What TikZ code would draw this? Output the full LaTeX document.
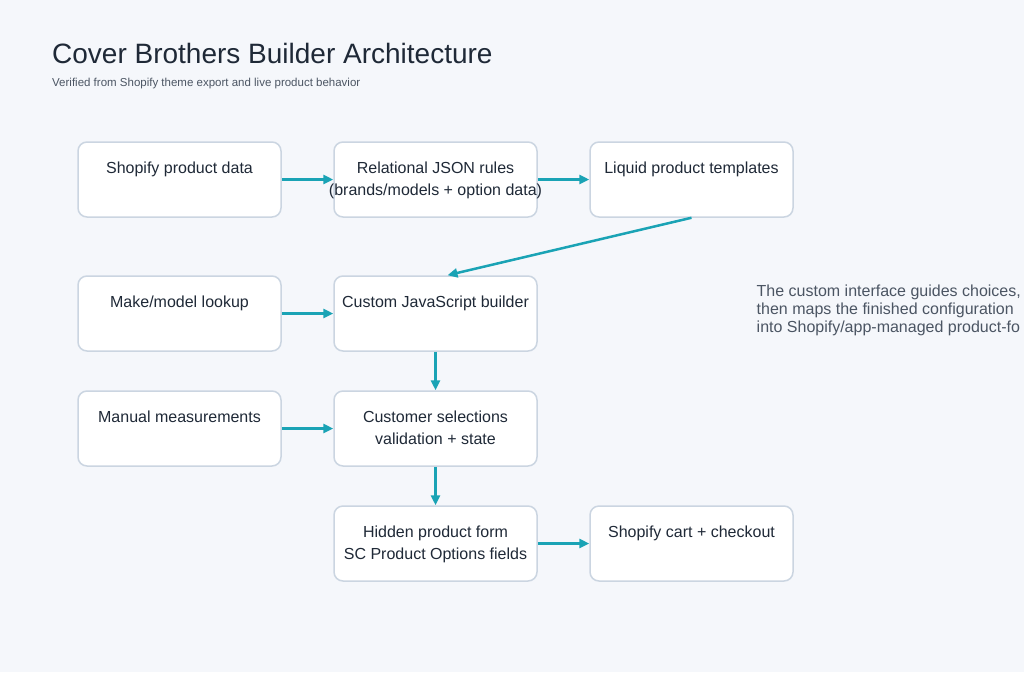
\documentclass[tikz,border=0pt]{standalone}
\usepackage{fontspec}
\setmainfont{Liberation Sans}
\usetikzlibrary{arrows.meta,positioning}
\definecolor{bgcol}{HTML}{F5F7FB}
\definecolor{inkcol}{HTML}{1F2937}
\definecolor{greycol}{HTML}{4B5563}
\definecolor{edgecol}{HTML}{CBD5E1}
\definecolor{tealcol}{HTML}{1AA3B5}
\tikzset{
  card/.style={draw=edgecol,line width=1.5pt,fill=white,rounded corners=9pt,
    minimum width=203pt,minimum height=75pt,inner sep=0pt},
  cardtext/.style={inner sep=0pt,align=center,text=inkcol,anchor=north,
    font=\fontsize{16}{21.5}\selectfont},
  flow/.style={draw=tealcol,line width=2.5pt,-{Triangle[length=10pt,width=9pt]}}
}

\begin{document}
\begin{tikzpicture}[x=1pt,y=-1pt]
      \useasboundingbox (0,0) rectangle (1024,672);
      \fill[bgcol] (0,0) rectangle (1024,672);

      \node[anchor=base west,inner sep=0pt,text=inkcol,font=\fontsize{28}{32}\selectfont]
        (title) at (52,63) {Cover Brothers Builder Architecture};
      \node[anchor=base west,inner sep=0pt,text=greycol,font=\fontsize{11.5}{14}\selectfont]
        (subtitle) at (52,86) {Verified from Shopify theme export and live product behavior};

      \node[card] (shopdata) at (179.5,179.5) {};
      \node[card] (jsonrules) at (435.5,179.5) {};
      \node[card] (liquid) at (691.5,179.5) {};
      \node[card] (lookup) at (179.5,313.5) {};
      \node[card] (builder) at (435.5,313.5) {};
      \node[card] (measure) at (179.5,428.5) {};
      \node[card] (selections) at (435.5,428.5) {};
      \node[card] (hiddenform) at (435.5,543.5) {};
      \node[card] (checkout) at (691.5,543.5) {};

      \node[cardtext] (shopdatatxt) at ([yshift=-20.5pt]shopdata.north) {Shopify product data};
      \node[cardtext] (jsonrulestxt) at ([yshift=-20.5pt]jsonrules.north) {Relational JSON rules\\(brands/models + option data)};
      \node[cardtext] (liquidtxt) at ([yshift=-20.5pt]liquid.north) {Liquid product templates};
      \node[cardtext] (lookuptxt) at ([yshift=-20.5pt]lookup.north) {Make/model lookup};
      \node[cardtext] (buildertxt) at ([yshift=-20.5pt]builder.north) {Custom JavaScript builder};
      \node[cardtext] (measuretxt) at ([yshift=-20.5pt]measure.north) {Manual measurements};
      \node[cardtext] (selectionstxt) at ([yshift=-20.5pt]selections.north) {Customer selections\\validation + state};
      \node[cardtext] (hiddenformtxt) at ([yshift=-20.5pt]hiddenform.north) {Hidden product form\\SC Product Options fields};
      \node[cardtext] (checkouttxt) at ([yshift=-20.5pt]checkout.north) {Shopify cart + checkout};

      \draw[flow] (shopdata) -- (jsonrules);
      \draw[flow] (jsonrules) -- (liquid);
      \draw[flow] (liquid.south) -- ([xshift=12pt]builder.north);
      \draw[flow] (lookup) -- (builder);
      \draw[flow] (builder) -- (selections);
      \draw[flow] (measure) -- (selections);
      \draw[flow] (selections) -- (hiddenform);
      \draw[flow] (hiddenform) -- (checkout);

      \node[anchor=north west,inner sep=0pt,align=left,text=greycol,font=\fontsize{16}{18}\selectfont]
        (note) at (756.5,284.5) {The custom interface guides choices,\\then maps the finished configuration\\into Shopify/app-managed product-fo};
\end{tikzpicture}
\end{document}
